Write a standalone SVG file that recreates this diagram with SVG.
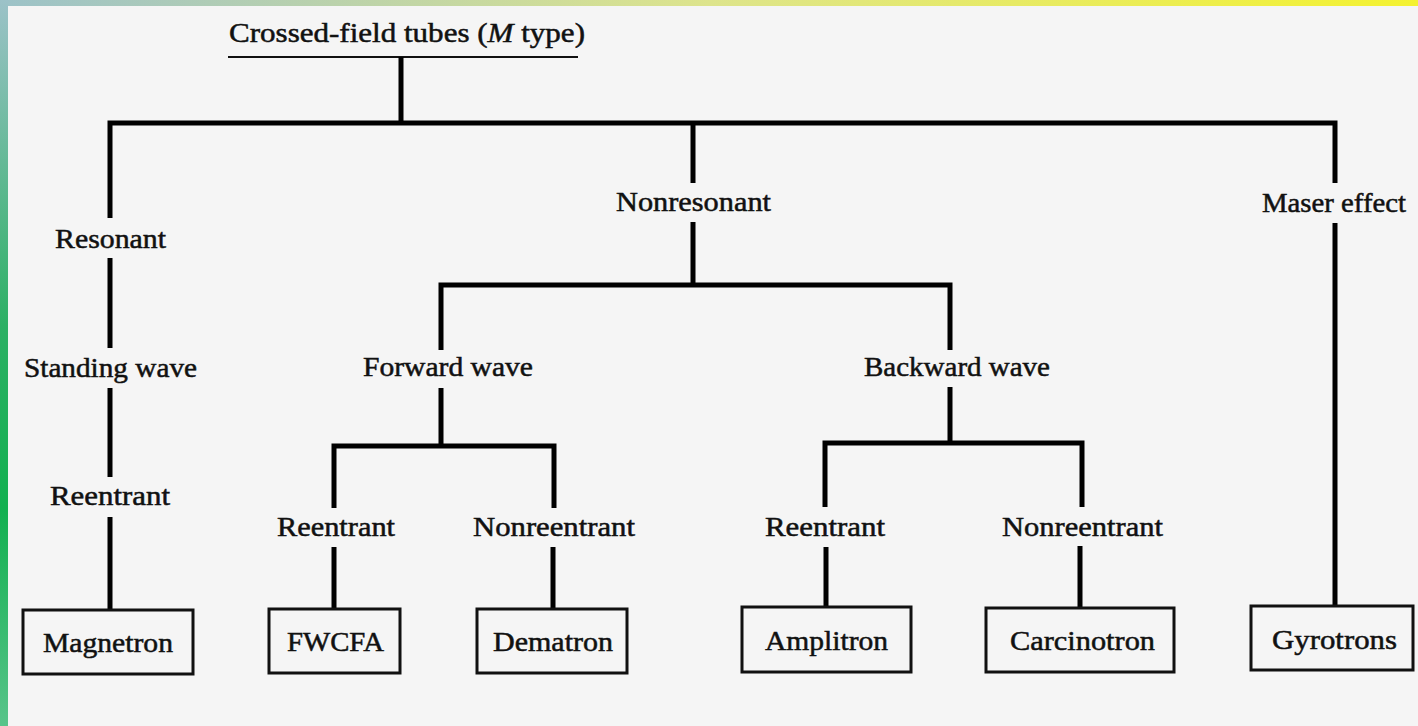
<svg xmlns="http://www.w3.org/2000/svg" width="1418" height="726" viewBox="0 0 1418 726">
<defs>
<linearGradient id="topband" x1="0" y1="0" x2="1" y2="0">
<stop offset="0" stop-color="#9cc2c8"/>
<stop offset="0.5" stop-color="#dde48c"/>
<stop offset="1" stop-color="#f4f230"/>
</linearGradient>
<linearGradient id="leftband" x1="0" y1="0" x2="0" y2="1">
<stop offset="0" stop-color="#9cc2c8"/>
<stop offset="0.45" stop-color="#2cb064"/>
<stop offset="0.7" stop-color="#12b050"/>
<stop offset="1" stop-color="#58c48a"/>
</linearGradient>
<style>
.t{font-family:"Liberation Serif","Times New Roman",serif;font-size:27px;fill:#111;stroke:#111;stroke-width:0.5px;}
.c{fill:none;stroke:#000;stroke-width:5;stroke-linecap:butt;}
.box{fill:none;stroke:#111;stroke-width:3;}
</style>
</defs>
<rect x="0" y="0" width="1418" height="726" fill="#f5f5f5"/>
<rect x="0" y="0" width="1418" height="6" fill="url(#topband)"/>
<rect x="0" y="0" width="8" height="726" fill="url(#leftband)"/>

<g id="connectors">
<line x1="228" y1="57" x2="578" y2="57" stroke="#111" stroke-width="2"/>
<path class="c" d="M401 57V123"/>
<path class="c" d="M110 218V123H1335V183"/>
<path class="c" d="M110 258V348M110 388V477M110 517V610"/>
<path class="c" d="M693 123V183M693 222V285"/>
<path class="c" d="M1335 223V606"/>
<path class="c" d="M441 350V285H950V350"/>
<path class="c" d="M441 388V446M334 508V446H554V508"/>
<path class="c" d="M334 547V609M553 547V609"/>
<path class="c" d="M950 387V443M825 507V443H1082V507"/>
<path class="c" d="M826 547V607M1080 546V607"/>
</g>

<g id="root"><text class="t" x="229" y="42" textLength="356" lengthAdjust="spacingAndGlyphs">Crossed-field tubes (<tspan font-style="italic">M</tspan> type)</text></g>
<g id="resonant"><text class="t" x="55" y="248" textLength="111" lengthAdjust="spacingAndGlyphs">Resonant</text></g>
<g id="standing-wave"><text class="t" x="24" y="377" textLength="173" lengthAdjust="spacingAndGlyphs">Standing wave</text></g>
<g id="reentrant-res"><text class="t" x="50" y="505" textLength="120" lengthAdjust="spacingAndGlyphs">Reentrant</text></g>
<g id="nonresonant"><text class="t" x="616" y="211" textLength="155" lengthAdjust="spacingAndGlyphs">Nonresonant</text></g>
<g id="maser-effect"><text class="t" x="1262" y="212" textLength="144" lengthAdjust="spacingAndGlyphs">Maser effect</text></g>
<g id="forward-wave"><text class="t" x="363" y="376" textLength="170" lengthAdjust="spacingAndGlyphs">Forward wave</text></g>
<g id="backward-wave"><text class="t" x="864" y="376" textLength="186" lengthAdjust="spacingAndGlyphs">Backward wave</text></g>
<g id="reentrant-fw"><text class="t" x="277" y="536" textLength="118" lengthAdjust="spacingAndGlyphs">Reentrant</text></g>
<g id="nonreentrant-fw"><text class="t" x="473" y="536" textLength="162" lengthAdjust="spacingAndGlyphs">Nonreentrant</text></g>
<g id="reentrant-bw"><text class="t" x="765" y="536" textLength="120" lengthAdjust="spacingAndGlyphs">Reentrant</text></g>
<g id="nonreentrant-bw"><text class="t" x="1002" y="536" textLength="161" lengthAdjust="spacingAndGlyphs">Nonreentrant</text></g>

<g id="magnetron"><rect class="box" x="23" y="610" width="170" height="64"/><text class="t" x="43" y="652" textLength="130" lengthAdjust="spacingAndGlyphs">Magnetron</text></g>
<g id="fwcfa"><rect class="box" x="269" y="609" width="131" height="64"/><text class="t" x="287" y="651" textLength="97" lengthAdjust="spacingAndGlyphs">FWCFA</text></g>
<g id="dematron"><rect class="box" x="477" y="609" width="150" height="64"/><text class="t" x="493" y="651" textLength="120" lengthAdjust="spacingAndGlyphs">Dematron</text></g>
<g id="amplitron"><rect class="box" x="742" y="607" width="169" height="65"/><text class="t" x="765" y="650" textLength="123" lengthAdjust="spacingAndGlyphs">Amplitron</text></g>
<g id="carcinotron"><rect class="box" x="986" y="608" width="188" height="64"/><text class="t" x="1010" y="650" textLength="145" lengthAdjust="spacingAndGlyphs">Carcinotron</text></g>
<g id="gyrotrons"><rect class="box" x="1251" y="606" width="162" height="64"/><text class="t" x="1272" y="649" textLength="125" lengthAdjust="spacingAndGlyphs">Gyrotrons</text></g>
</svg>
